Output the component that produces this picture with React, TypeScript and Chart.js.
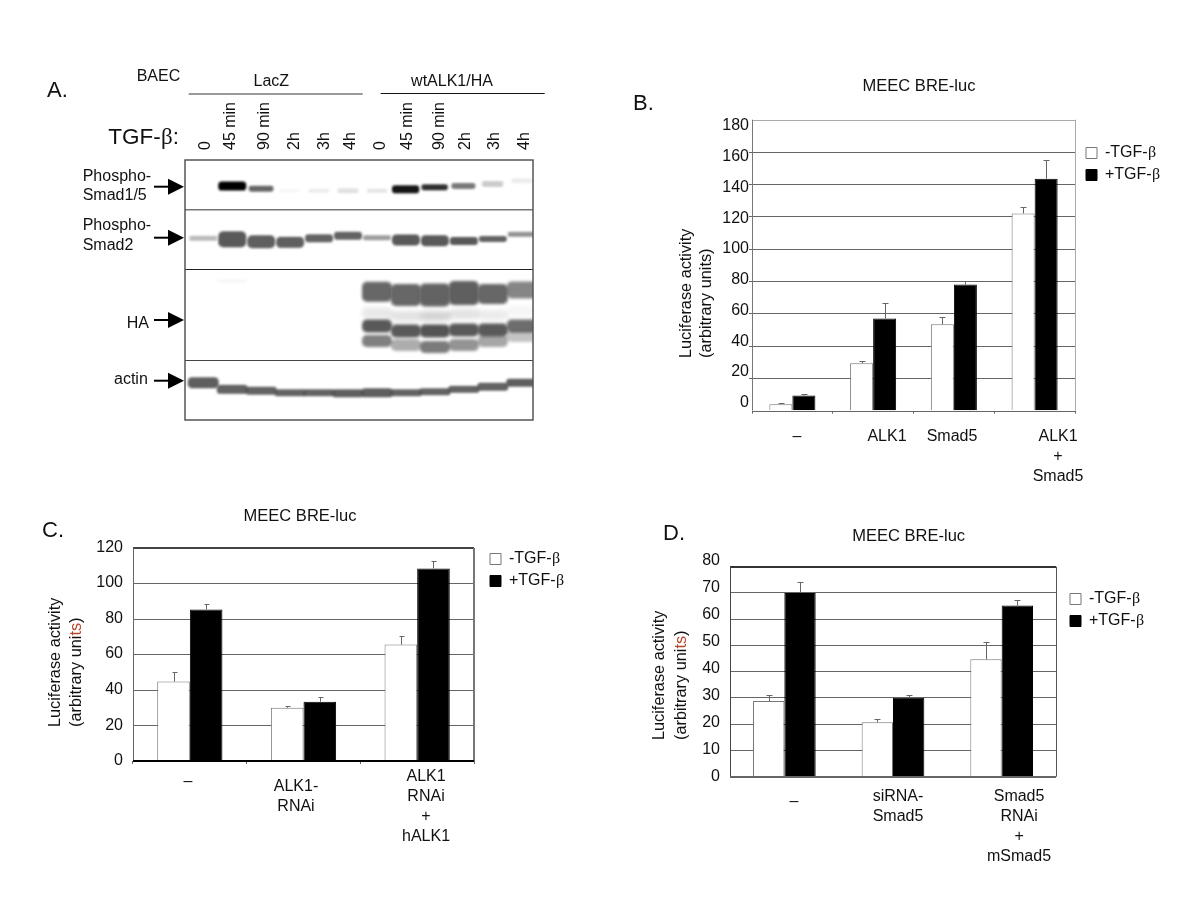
import { useEffect, useRef } from 'react';
import { Chart, registerables } from 'chart.js';

Chart.register(...registerables);

const SANS = '"Liberation Sans", Arial, sans-serif';
const FONT = `"Greek Serif Mix", ${SANS}`;
const FONT_CSS = '@font-face{font-family:"Greek Serif Mix";src:local("Liberation Serif");unicode-range:U+03B2;}';
const LEGEND_NAMES = ['-TGF-β', '+TGF-β'];
const TITLE = 'MEEC BRE-luc';

// Panel B
const bCategories = ['–', 'ALK1', 'Smad5', 'ALK1 + Smad5'];
const bLabelLines = [['–'], ['ALK1'], ['Smad5'], ['ALK1', '+', 'Smad5']];
const bMinus = [4, 29.3, 53.4, 122];
const bPlus = [9.4, 57, 78, 143.5];
const bMinusTop = [4.8, 30.7, 57.7, 126];
const bPlusTop = [10.4, 66.4, 80, 155];
const bTicks = [0, 20, 40, 60, 80, 100, 120, 140, 160, 180];

// Panel C
const cCategories = ['–', 'ALK1-RNAi', 'ALK1 RNAi + hALK1'];
const cLabelLines = [['–'], ['ALK1-', 'RNAi'], ['ALK1', 'RNAi', '+', 'hALK1']];
const cMinus = [44.8, 30, 65.6];
const cPlus = [85.4, 33.4, 108.5];
const cMinusTop = [50, 31, 70.6];
const cPlusTop = [88.3, 35.8, 112.9];
const cTicks = [0, 20, 40, 60, 80, 100, 120];

// Panel D
const dCategories = ['–', 'siRNA-Smad5', 'Smad5 RNAi + mSmad5'];
const dLabelLines = [['–'], ['siRNA-', 'Smad5'], ['Smad5', 'RNAi', '+', 'mSmad5']];
const dMinus = [28.8, 20.7, 44.7];
const dPlus = [70, 30.1, 65.2];
const dMinusTop = [31, 21.8, 51.2];
const dPlusTop = [74, 31, 67.5];
const dTicks = [0, 10, 20, 30, 40, 50, 60, 70, 80];

// Panel A: one entry per lane
const laneLabels = ['0', '45 min', '90 min', '2h', '3h', '4h', '0', '45 min', '90 min', '2h', '3h', '4h'];
const laneLabelAt = [0, 0.85, 2.03, 3.06, 4.1, 5, 6.03, 6.97, 8.07, 8.97, 9.97, 11];
const smad15Signal = [0, 1, 0.6, 0.04, 0.08, 0.12, 0.1, 0.92, 0.82, 0.52, 0.2, 0.08];
const smad15Position = [28, 26, 28.7, 30.7, 30.7, 30.7, 30.7, 29.3, 27.3, 26, 24, 20.7];
const smad15Thickness = [3, 9, 6, 3, 4, 5, 4, 8, 6, 6, 6, 5];
const smad2Signal = [0.35, 0.85, 0.82, 0.82, 0.8, 0.8, 0.5, 0.85, 0.85, 0.85, 0.8, 0.55];
const smad2Position = [78.3, 79.3, 81.7, 82.3, 78.3, 75.7, 77.7, 80, 80.7, 81, 79, 74.3];
const smad2Thickness = [5, 16, 13, 11, 8, 8, 5, 11, 11, 8, 6, 5];
const haUpperSignal = [0, 0.08, 0, 0, 0, 0, 0.78, 0.78, 0.8, 0.82, 0.78, 0.62];
const haUpperPosition = [0, 121, 0, 0, 0, 0, 131.7, 135, 135, 133, 134, 130];
const haUpperThickness = [0, 2, 0, 0, 0, 0, 20, 22, 23, 24, 20, 17];
const haMiddleSignal = [0, 0, 0, 0, 0, 0, 0.85, 0.85, 0.88, 0.85, 0.85, 0.75];
const haMiddlePosition = [0, 0, 0, 0, 0, 0, 166, 171, 171, 170, 170, 166];
const haLowerSignal = [0, 0, 0, 0, 0, 0, 0.65, 0.42, 0.68, 0.55, 0.45, 0.3];
const haLowerPosition = [0, 0, 0, 0, 0, 0, 181, 185, 187, 185, 181, 176];
const haFaintSignal = [0, 0, 0, 0, 0, 0, 0.12, 0.15, 0.22, 0.15, 0.1, 0.05];
const actinSignal = [0.82, 0.8, 0.8, 0.8, 0.8, 0.82, 0.82, 0.8, 0.8, 0.8, 0.8, 0.82];
const actinPosition = [222.7, 229.3, 230.7, 232.7, 232.7, 233.3, 232.7, 232.7, 231.7, 229.3, 226.7, 222.7];
const actinThickness = [11, 9, 8, 7, 7, 8, 9, 7, 7, 7, 8, 8];
const rowSeparators = [50, 109.3, 200];

const panelAText = [
  { text: 'A.', x: 47, y: 91, size: 22 },
  { text: 'BAEC', x: 136.7, y: 76.7, size: 16 },
  { text: 'LacZ', x: 271.3, y: 81.7, size: 16, align: 'center' },
  { text: 'wtALK1/HA', x: 452, y: 81.7, size: 16, align: 'center' },
  { text: 'TGF-β:', x: 108.3, y: 138, size: 22.5 },
  { text: 'Phospho-', x: 82.7, y: 176.7, size: 16 },
  { text: 'Smad1/5', x: 82.7, y: 196, size: 16 },
  { text: 'Phospho-', x: 82.7, y: 226, size: 16 },
  { text: 'Smad2', x: 82.7, y: 245.3, size: 16 },
  { text: 'HA', x: 126.7, y: 324, size: 16 },
  { text: 'actin', x: 114, y: 380, size: 16 },
];
const arrowRows = [186.7, 237.7, 320, 380.7];

function line(ctx: any, x1: number, y1: number, x2: number, y2: number, color: string, w: number) {
  ctx.save();
  ctx.strokeStyle = color;
  ctx.lineWidth = w;
  ctx.beginPath();
  ctx.moveTo(x1, y1);
  ctx.lineTo(x2, y2);
  ctx.stroke();
  ctx.restore();
}

function label(ctx: any, t: any) {
  ctx.save();
  ctx.font = `${t.size}px ${FONT}`;
  ctx.fillStyle = '#111';
  ctx.textAlign = t.align || 'left';
  ctx.textBaseline = 'middle';
  ctx.fillText(t.text, t.x, t.y);
  ctx.restore();
}

function snap(v: number, w: number) {
  return w % 2 === 1 ? Math.round(v) + 0.5 : Math.round(v);
}

const barPanelPlugin = {
  id: 'barPanel',
  beforeDatasetsDraw(chart: any, _a: any, o: any) {
    const { ctx, chartArea: a } = chart;
    const f = o.frame;
    const t = snap(a.top, f.top[1]);
    const r = snap(a.right, f.right[1]);
    const l = snap(a.left, f.left[1]);
    line(ctx, a.left, t, a.right, t, f.top[0], f.top[1]);
    line(ctx, r, a.top, r, a.bottom, f.right[0], f.right[1]);
    line(ctx, l, a.top, l, a.bottom, f.left[0], f.left[1]);
  },
  afterDatasetsDraw(chart: any, _a: any, o: any) {
    const { ctx, chartArea: a, scales } = chart;
    const f = o.frame;
    chart.data.datasets.forEach((ds: any, i: number) => {
      chart.getDatasetMeta(i).data.forEach((bar: any, j: number) => {
        const top = scales.y.getPixelForValue(ds.errorTop[j]);
        const x = Math.round(bar.x) + 0.5;
        const y = Math.round(top) + 0.5;
        line(ctx, x, bar.y, x, y, '#666', 1);
        line(ctx, x - o.cap[0], y, x + o.cap[1], y, '#666', 1);
      });
    });
    const b = snap(a.bottom, f.bottom[1]);
    line(ctx, a.left, b, a.right, b, f.bottom[0], f.bottom[1]);
  },
  afterDraw(chart: any, _a: any, o: any) {
    const { ctx } = chart;
    label(ctx, o.letter);
    o.yTitle.forEach((row: any) => {
      ctx.save();
      ctx.translate(row.x, row.y);
      ctx.rotate(-Math.PI / 2);
      ctx.font = `${o.yTitleSize}px ${FONT}`;
      ctx.textBaseline = 'middle';
      ctx.textAlign = 'left';
      let cx = 0;
      row.parts.forEach((p: any) => {
        ctx.fillStyle = p[1];
        ctx.fillText(p[0], cx, 0);
        cx += ctx.measureText(p[0]).width;
      });
      ctx.restore();
    });
  },
  afterLayout(chart: any, _a: any, o: any) {
    const t = chart.titleBlock;
    t.left = o.titleAt[0] - 150;
    t.right = o.titleAt[0] + 150;
    t.top = o.titleAt[1] - 8;
    t.bottom = o.titleAt[1] + 8;
    const l = chart.legend;
    l.left = o.legendAt[0] - 6;
    l.right = l.left + 120;
    l.top = o.legendAt[1] - 6;
    l.bottom = l.top + 70;
  },
};

function spaced(lines: string[], blanks: number) {
  const out: string[] = [];
  for (let i = 0; i < blanks; i++) out.push('');
  lines.forEach((s) => out.push(s, '', '', ''));
  return out;
}

function makeBarChart(canvas: HTMLCanvasElement, c: any) {
  const X_H = 3;
  const LAB_H = 100;
  const Y_W = 60;
  const n = c.categories.length;
  const lines = c.labelLines.map((l: string[], i: number) => spaced(l, c.labelBlanks[i]));
  return new Chart(canvas, {
    type: 'bar',
    data: {
      labels: c.categories,
      datasets: [
        {
          label: LEGEND_NAMES[0],
          data: c.minus,
          errorTop: c.minusTop,
          backgroundColor: '#ffffff',
          borderColor: '#777777',
          borderWidth: 1,
          categoryPercentage: c.groupShare,
          barPercentage: 1,
        },
        {
          label: LEGEND_NAMES[1],
          data: c.plus,
          errorTop: c.plusTop,
          backgroundColor: '#000000',
          borderColor: '#000000',
          borderWidth: 1,
          categoryPercentage: c.groupShare,
          barPercentage: 1,
        },
      ] as any,
    },
    plugins: [barPanelPlugin],
    options: {
      responsive: false,
      animation: false,
      devicePixelRatio: 1,
      events: [],
      layout: {
        padding: {
          left: c.rect.left - Y_W,
          right: 1200 - c.rect.right,
          top: c.rect.top - 16.5,
          bottom: 900 - c.rect.bottom - X_H - LAB_H,
        },
      },
      scales: {
        x: {
          type: 'category',
          weight: 0,
          offset: true,
          border: { display: false },
          afterFit: (s: any) => { s.height = X_H; },
          grid: {
            display: c.xTickMarks,
            drawOnChartArea: false,
            drawTicks: true,
            tickLength: 3,
            color: '#666',
            offset: true,
          },
          ticks: { display: false },
        },
        xLabels: {
          type: 'linear',
          axis: 'x',
          position: 'bottom',
          weight: 1,
          offset: false,
          bounds: 'data',
          min: -0.5,
          max: n - 0.5,
          border: { display: false },
          grid: { display: false, drawTicks: false, offset: false },
          afterFit: (s: any) => { s.height = LAB_H; },
          afterBuildTicks: (s: any) => { s.ticks = c.labelCenters.map((v: number) => ({ value: v })); },
          ticks: {
            autoSkip: false,
            maxRotation: 0,
            minRotation: 0,
            padding: c.labelTop - 2.5 - c.rect.bottom - X_H,
            color: '#111',
            font: { family: FONT, size: 16, lineHeight: '5px' },
            callback: (_v: any, i: number) => lines[i],
          },
        },
        y: {
          type: 'linear',
          weight: 0,
          min: 0,
          max: c.yMax,
          border: { display: false },
          afterFit: (s: any) => { s.width = 0; },
          grid: {
            drawTicks: c.yTickMarks,
            tickLength: 3,
            color: (ctx: any) => (ctx.tick.value === 0 || ctx.tick.value >= c.yMax ? 'rgba(0,0,0,0)' : '#666'),
          },
          ticks: { display: false, stepSize: c.yStep },
        },
        yLabels: {
          type: 'linear',
          axis: 'y',
          position: 'left',
          weight: 1,
          bounds: 'data',
          min: c.labelRange[0],
          max: c.labelRange[1],
          border: { display: false },
          grid: { display: false, drawTicks: false },
          afterFit: (s: any) => { s.width = Y_W; },
          afterBuildTicks: (s: any) => { s.ticks = c.ticks.map((v: number) => ({ value: v })); },
          ticks: {
            padding: c.yLabelGap,
            autoSkip: false,
            color: '#111',
            font: { family: FONT, size: 16 },
            callback: (v: any) => String(v),
          },
        },
      } as any,
      plugins: {
        title: {
          display: true,
          text: TITLE,
          color: '#111',
          padding: 0,
          font: { family: FONT, size: 16.5, weight: 'normal', lineHeight: 1 },
        },
        legend: {
          position: 'chartArea',
          align: 'start',
          labels: {
            boxWidth: 11,
            boxHeight: 11,
            padding: 6,
            color: '#111',
            font: { family: FONT, size: 16, lineHeight: 1 },
          },
        },
        tooltip: { enabled: false },
        barPanel: {
          frame: c.frame,
          cap: c.cap,
          letter: c.letter,
          titleAt: c.titleAt,
          legendAt: c.legendAt,
          yTitle: c.yTitle,
          yTitleSize: 16.3,
        },
      } as any,
    },
  } as any);
}

function bandSprite(width: number, thickness: number, alpha: number, tone: string, blur: number) {
  const pad = 8;
  const cv = document.createElement('canvas');
  cv.width = Math.ceil(width + pad * 2);
  cv.height = Math.ceil(Math.max(thickness, 1) + pad * 2);
  const g = cv.getContext('2d') as CanvasRenderingContext2D;
  g.filter = `blur(${blur}px)`;
  g.fillStyle = tone;
  g.globalAlpha = Math.max(0, Math.min(1, alpha));
  g.beginPath();
  (g as any).roundRect(pad, pad, width, thickness, Math.min(thickness * 0.4, 5));
  g.fill();
  return cv;
}

function bandSet(signal: number[], position: number[], thickness: number[] | number, width: (s: number) => number, tone: string, blur: number) {
  const data: any[] = [];
  const sprites: any[] = [];
  signal.forEach((s, lane) => {
    if (s <= 0) return;
    const t = Array.isArray(thickness) ? thickness[lane] : thickness;
    data.push({ x: lane, y: position[lane] });
    sprites.push(bandSprite(width(s), t, s, tone, blur));
  });
  return { data, pointStyle: sprites, pointRadius: 5, pointBorderWidth: 0, showLine: false };
}

const panelAPlugin = {
  id: 'panelA',
  afterDraw(chart: any) {
    const { ctx, chartArea: a } = chart;
    panelAText.forEach((t) => label(ctx, t));
    line(ctx, 188.7, 94, 362.7, 94, '#777', 1.5);
    line(ctx, 380.7, 93.5, 544.7, 93.5, '#111', 1);
    ctx.save();
    ctx.strokeStyle = '#555';
    ctx.lineWidth = 1.5;
    ctx.strokeRect(a.left, a.top, a.right - a.left, a.bottom - a.top);
    ctx.restore();
    arrowRows.forEach((y) => {
      line(ctx, 154, y, 170, y, '#000', 2);
      ctx.fillStyle = '#000';
      ctx.beginPath();
      ctx.moveTo(168, y - 8);
      ctx.lineTo(184, y);
      ctx.lineTo(168, y + 8);
      ctx.closePath();
      ctx.fill();
    });
  },
};

function makeBlot(canvas: HTMLCanvasElement) {
  const dark = '#000000';
  const grey = '#3c3c3c';
  const smadW = (s: number) => 20 + 8 * s;
  const wide = () => 30;
  return new Chart(canvas, {
    type: 'scatter',
    data: {
      datasets: [
        bandSet(smad15Signal, smad15Position, smad15Thickness, smadW, dark, 1.2),
        bandSet(smad2Signal, smad2Position, smad2Thickness, () => 28, grey, 1.2),
        bandSet(haFaintSignal, haUpperPosition.map((p) => p + 21), 10, wide, grey, 2.5),
        bandSet(haUpperSignal, haUpperPosition, haUpperThickness, wide, grey, 1.6),
        bandSet(haLowerSignal, haLowerPosition, 12, wide, grey, 1.8),
        bandSet(haMiddleSignal, haMiddlePosition, 13, wide, grey, 1.4),
        bandSet(actinSignal, actinPosition, actinThickness, () => 31, grey, 1),
      ] as any,
    },
    plugins: [panelAPlugin],
    options: {
      responsive: false,
      animation: false,
      devicePixelRatio: 1,
      events: [],
      layout: { padding: { left: 185, right: 1200 - 533, top: 160 - 70, bottom: 900 - 420 } },
      scales: {
        x: {
          type: 'linear',
          position: 'top',
          bounds: 'data',
          min: -0.63,
          max: 11.39,
          border: { display: false },
          grid: { display: false, drawTicks: false },
          afterFit: (s: any) => { s.height = 70; },
          afterBuildTicks: (s: any) => {
            s.ticks = laneLabelAt.map((v) => ({ value: v }));
          },
          ticks: {
            autoSkip: false,
            minRotation: 90,
            maxRotation: 90,
            padding: 10,
            labelOffset: 22,
            color: '#111',
            font: { family: FONT, size: 16 },
            callback: (_v: any, i: number) => laneLabels[i],
          },
        },
        y: {
          type: 'linear',
          reverse: true,
          bounds: 'data',
          min: 0,
          max: 260,
          border: { display: false },
          afterFit: (s: any) => { s.width = 0; },
          afterBuildTicks: (s: any) => { s.ticks = rowSeparators.map((v) => ({ value: v })); },
          grid: {
            drawTicks: false,
            color: (ctx: any) => ['#777', '#222', '#444'][ctx.index] || '#444',
            lineWidth: (ctx: any) => (ctx.index === 0 ? 1.5 : 1),
          },
          ticks: { display: false },
        },
      } as any,
      plugins: { legend: { display: false }, tooltip: { enabled: false } },
    },
  } as any);
}

const configB = {
  categories: bCategories, labelLines: bLabelLines, labelBlanks: [0, 0, 0, 0], labelTop: 436.7,
  labelCenters: [0.057, 1.172, 1.977, 3.29],
  minus: bMinus, plus: bPlus, minusTop: bMinusTop, plusTop: bPlusTop, ticks: bTicks,
  rect: { left: 752, right: 1075, top: 119.7, bottom: 410.7 },
  yMax: 180, yStep: 20, labelRange: [-5.2, 184.1], yLabelGap: 3, groupShare: 0.57,
  xTickMarks: true, yTickMarks: true, cap: [3, 3],
  frame: { top: ['#aaa', 1], right: ['#aaa', 1], left: ['#777', 1], bottom: ['#666', 1] },
  letter: { text: 'B.', x: 633, y: 104, size: 22 },
  titleAt: [919, 86], legendAt: [1086, 145],
  yTitle: [
    { x: 687, y: 358, parts: [['Luciferase activity', '#111']] },
    { x: 706.5, y: 358, parts: [['(arbitrary units)', '#111']] },
  ],
};

const configC = {
  categories: cCategories, labelLines: cLabelLines, labelBlanks: [1, 2, 0], labelTop: 776.7,
  labelCenters: [-0.016, 0.934, 2.078],
  minus: cMinus, plus: cPlus, minusTop: cMinusTop, plusTop: cPlusTop, ticks: cTicks,
  rect: { left: 133, right: 474, top: 548, bottom: 761 },
  yMax: 120, yStep: 20, labelRange: [0, 119.5], yLabelGap: 10, groupShare: 0.574,
  xTickMarks: true, yTickMarks: false, cap: [2, 3],
  frame: { top: ['#444', 2], right: ['#777', 2], left: ['#666', 1], bottom: ['#000', 2] },
  letter: { text: 'C.', x: 42, y: 531, size: 22 },
  titleAt: [300, 516], legendAt: [490, 551],
  yTitle: [
    { x: 56, y: 727, parts: [['Luciferase activity', '#111']] },
    { x: 77, y: 727, parts: [['(arbitrary uni', '#111'], ['ts', '#b5482a'], [')', '#111']] },
  ],
};

const configD = {
  categories: dCategories, labelLines: dLabelLines, labelBlanks: [1, 0, 0], labelTop: 796.7,
  labelCenters: [0.089, 1.046, 2.16],
  minus: dMinus, plus: dPlus, minusTop: dMinusTop, plusTop: dPlusTop, ticks: dTicks,
  rect: { left: 730, right: 1056, top: 566.7, bottom: 776.7 },
  yMax: 80, yStep: 10, labelRange: [0, 77.8], yLabelGap: 10, groupShare: 0.577,
  xTickMarks: false, yTickMarks: false, cap: [3, 3],
  frame: { top: ['#333', 2], right: ['#555', 1], left: ['#444', 1], bottom: ['#666', 2] },
  letter: { text: 'D.', x: 663, y: 534, size: 22 },
  titleAt: [908.7, 536], legendAt: [1070, 591],
  yTitle: [
    { x: 659.5, y: 740, parts: [['Luciferase activity', '#111']] },
    { x: 681.5, y: 740, parts: [['(arbitrary uni', '#111'], ['ts', '#b5482a'], [')', '#111']] },
  ],
};

const canvasStyle: any = { position: 'absolute', left: 0, top: 0, width: 1200, height: 900 };

export default function App() {
  const a = useRef<HTMLCanvasElement>(null);
  const b = useRef<HTMLCanvasElement>(null);
  const c = useRef<HTMLCanvasElement>(null);
  const d = useRef<HTMLCanvasElement>(null);
  useEffect(() => {
    const charts = [
      makeBlot(a.current as HTMLCanvasElement),
      makeBarChart(b.current as HTMLCanvasElement, configB),
      makeBarChart(c.current as HTMLCanvasElement, configC),
      makeBarChart(d.current as HTMLCanvasElement, configD),
    ];
    let alive = true;
    document.fonts.load(`16px "Greek Serif Mix"`, 'β').then(() => {
      if (alive) charts.forEach((ch) => ch.update());
    });
    return () => {
      alive = false;
      charts.forEach((ch) => ch.destroy());
    };
  }, []);
  return (
    <div style={{ position: 'absolute', left: 0, top: 0, width: 1200, height: 900, background: '#fff', overflow: 'hidden' }}>
      <style>{FONT_CSS}</style>
      <canvas ref={a} width={1200} height={900} style={canvasStyle} />
      <canvas ref={b} width={1200} height={900} style={canvasStyle} />
      <canvas ref={c} width={1200} height={900} style={canvasStyle} />
      <canvas ref={d} width={1200} height={900} style={canvasStyle} />
    </div>
  );
}
